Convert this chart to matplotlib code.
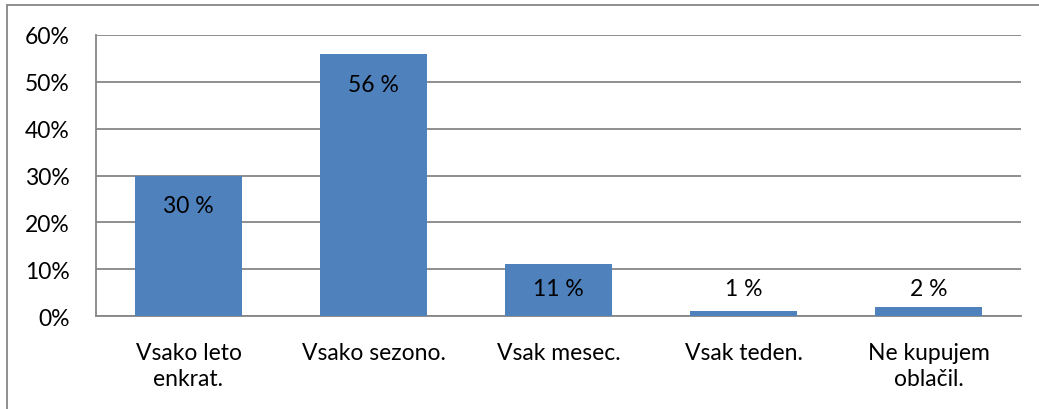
import matplotlib.pyplot as plt
import matplotlib.patches as patches
import numpy as np

categories = ['Vsako leto\nenkrat.', 'Vsako sezono.', 'Vsak mesec.', 'Vsak teden.', 'Ne kupujem\noblačil.']
values = [30, 56, 11, 1, 2]
yticks = [0, 10, 20, 30, 40, 50, 60]

plt.rcParams['font.family'] = ['Lato', 'DejaVu Sans']
grey = '#868686'
barcol = '#4F81BD'

W, H = 1039, 410
fig = plt.figure(figsize=(W / 100, H / 100), dpi=100)
# plot area in pixels: x 96..1021, y 36..317
ax = fig.add_axes([96 / W, 1 - 317 / H, (1021 - 96) / W, (317 - 36) / H])

x = np.arange(len(categories))
ax.bar(x, values, width=0.573, color=barcol, zorder=3)

# data labels, inside the bar near the top or just above the axis for small bars
for xi, v in zip(x, values):
    ax.text(xi, max(v - 6.5, 5.9), f'{v} %', ha='center', va='center', fontsize=16.5, color='black', zorder=4)

ax.set_xlim(-0.5, len(categories) - 0.5)
ax.set_ylim(0, 60)
ax.set_yticks(yticks)
ax.set_yticklabels([f'{t}%' for t in yticks], fontsize=16.5)
ax.set_xticks(x)
ax.set_xticklabels(categories, fontsize=16.5, linespacing=1.3)
ax.tick_params(axis='both', length=0)
ax.tick_params(axis='y', pad=19)
ax.tick_params(axis='x', pad=19)

ax.yaxis.grid(True, color=grey, linewidth=1.3, zorder=0)
ax.set_axisbelow(True)
for s in ['top', 'right']:
    ax.spines[s].set_visible(False)
for s in ['left', 'bottom']:
    ax.spines[s].set_color(grey)
    ax.spines[s].set_linewidth(1.3)

# outer chart frame (cropped at right and bottom)
frame = patches.Rectangle((7 / W, -0.1), 1.2, 1 - 6 / H + 0.1, transform=fig.transFigure,
                          fill=False, edgecolor=grey, linewidth=1.3)
fig.add_artist(frame)

fig.savefig('out.png', dpi=100)
